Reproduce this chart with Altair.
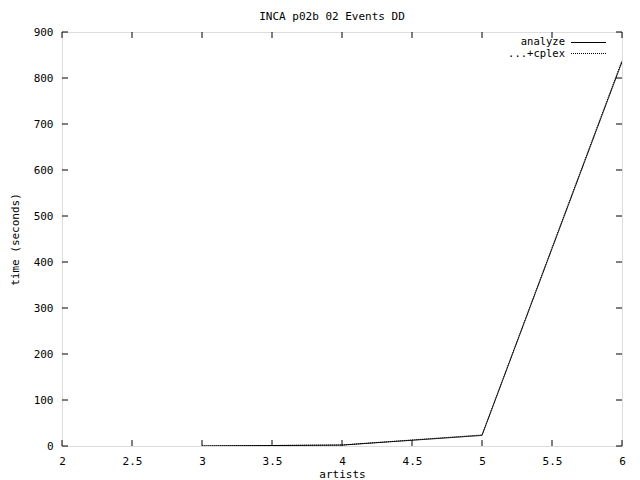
import altair as alt
import pandas as pd

artists = [3, 4, 5, 6]
analyze = [0, 2, 23, 835]
cplex = [0, 2.2, 24, 838]

x_ticks = [2, 2.5, 3, 3.5, 4, 4.5, 5, 5.5, 6]
y_ticks = [0, 100, 200, 300, 400, 500, 600, 700, 800, 900]
series_names = ["analyze", "...+cplex"]

FONT = "DejaVu Sans Mono"
W, H = 560, 414

df = pd.DataFrame({
    "artists": artists * 2,
    "time": analyze + cplex,
    "series": [series_names[0]] * len(artists) + [series_names[1]] * len(artists),
})

xs = alt.Scale(domain=[2, 6], nice=False, zero=False)
ys = alt.Scale(domain=[0, 900], nice=False)

base = alt.Chart(df)

lines = base.mark_line(color="black", strokeWidth=1, clip=True).encode(
    x=alt.X("artists:Q", scale=xs,
            axis=alt.Axis(values=x_ticks, ticks=False, grid=False, domain=False,
                          format="~g",
                          labelPadding=9, labelFont=FONT, labelFontSize=11,
                          labelColor="black", title="artists", titleFont=FONT,
                          titleFontSize=11, titleFontWeight="normal",
                          titlePadding=2, labelFlush=False)),
    y=alt.Y("time:Q", scale=ys,
            axis=alt.Axis(values=y_ticks, ticks=False, grid=False, domain=False,
                          labelPadding=9, labelFont=FONT, labelFontSize=11,
                          labelColor="black", title="time (seconds)", titleFont=FONT,
                          titleFontSize=11, titleFontWeight="normal",
                          titlePadding=13, labelFlush=False)),
    strokeDash=alt.StrokeDash("series:N",
                              scale=alt.Scale(domain=series_names, range=[[1, 0], [1, 1]]),
                              legend=None),
)

xt = pd.DataFrame({"v": x_ticks})
yt = pd.DataFrame({"v": y_ticks})

xb = alt.Chart(xt).mark_rule(color="black", strokeWidth=1).encode(
    x=alt.X("v:Q", scale=xs), y=alt.value(H), y2=alt.value(H - 6))
xtop = alt.Chart(xt).mark_rule(color="black", strokeWidth=1).encode(
    x=alt.X("v:Q", scale=xs), y=alt.value(0), y2=alt.value(6))
yl = alt.Chart(yt).mark_rule(color="black", strokeWidth=1).encode(
    y=alt.Y("v:Q", scale=ys), x=alt.value(0), x2=alt.value(6))
yr = alt.Chart(yt).mark_rule(color="black", strokeWidth=1).encode(
    y=alt.Y("v:Q", scale=ys), x=alt.value(W - 6), x2=alt.value(W))

leg_text = alt.Chart(pd.DataFrame({"name": [series_names[0]]})).mark_text(
    font=FONT, fontSize=10.5, align="right", baseline="middle", color="black"
).encode(text="name:N", x=alt.value(503), y=alt.value(9.5))
leg_text2 = alt.Chart(pd.DataFrame({"name": [series_names[1]]})).mark_text(
    font=FONT, fontSize=10.5, align="right", baseline="middle", color="black"
).encode(text="name:N", x=alt.value(503), y=alt.value(21.5))
leg_line1 = alt.Chart(pd.DataFrame({"name": [series_names[0]]})).mark_rule(
    color="black", strokeWidth=1
).encode(x=alt.value(509), x2=alt.value(544), y=alt.value(10.5))
leg_line2 = alt.Chart(pd.DataFrame({"name": [series_names[1]]})).mark_rule(
    color="black", strokeWidth=1, strokeDash=[1, 1]
).encode(x=alt.value(509), x2=alt.value(544), y=alt.value(21.5))

chart = alt.layer(
    lines, xb, xtop, yl, yr, leg_text, leg_text2, leg_line1, leg_line2
).properties(
    width=W, height=H,
    title=alt.TitleParams("INCA p02b 02 Events DD", font=FONT, fontSize=11,
                          fontWeight="normal", color="black", anchor="middle",
                          dx=-10, offset=4),
    autosize=alt.AutoSizeParams(type="none"),
    padding={"left": 54, "top": 24, "right": 10, "bottom": 42},
).configure_view(stroke="black", strokeWidth=1).configure(background="white")

chart.save("out.html", embed_options={"renderer": "svg", "actions": False})
